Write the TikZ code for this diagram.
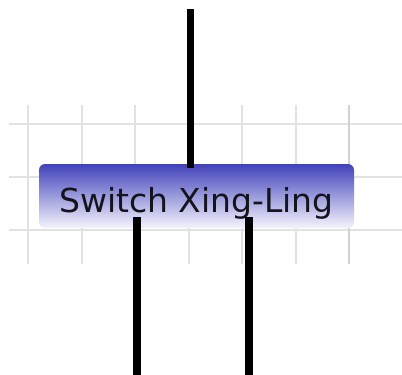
\documentclass[tikz,border=0pt]{standalone}
\usepackage{fontspec}
\setmainfont{DejaVu Sans}
\begin{document}
\begin{tikzpicture}[x=1pt,y=-1pt,
  gridline/.style={draw={rgb,255:red,226;green,226;blue,226},line width=2pt},
  wire/.style={draw=black,line width=7.5pt},
  switchbox/.style={rectangle,rounded corners=6pt,minimum width=315pt,minimum height=64pt,
    inner sep=0pt,top color={rgb,255:red,66;green,66;blue,186},
    bottom color={rgb,255:red,244;green,244;blue,252},
    font=\fontsize{33pt}{36pt}\selectfont,text={rgb,255:red,20;green,20;blue,30}}]
\useasboundingbox[fill=white] (0,0) rectangle (402,375);
% grid
\foreach \yy in {124,177,230} \draw[gridline] (9,\yy) -- (402,\yy);
\foreach \xx in {28,81.5,135,188.5,242,295.5} \draw[gridline] (\xx,105) -- (\xx,264);
\draw[gridline,draw={rgb,255:red,210;green,210;blue,210}] (349,105) -- (349,264);
% node
\node[switchbox] (sw) at (196.5,196) {\raisebox{-16pt}[0pt][0pt]{Switch Xing-Ling}};
% wires
\coordinate (t1) at (190.5,9);
\coordinate (b1) at (137,380);
\coordinate (b2) at (249,380);
\draw[wire] (t1) -- ([yshift=-4pt]sw.north -| t1);
\draw[wire] ([yshift=11pt]sw.south -| b1) -- (b1);
\draw[wire] ([yshift=11pt]sw.south -| b2) -- (b2);
\end{tikzpicture}
\end{document}
